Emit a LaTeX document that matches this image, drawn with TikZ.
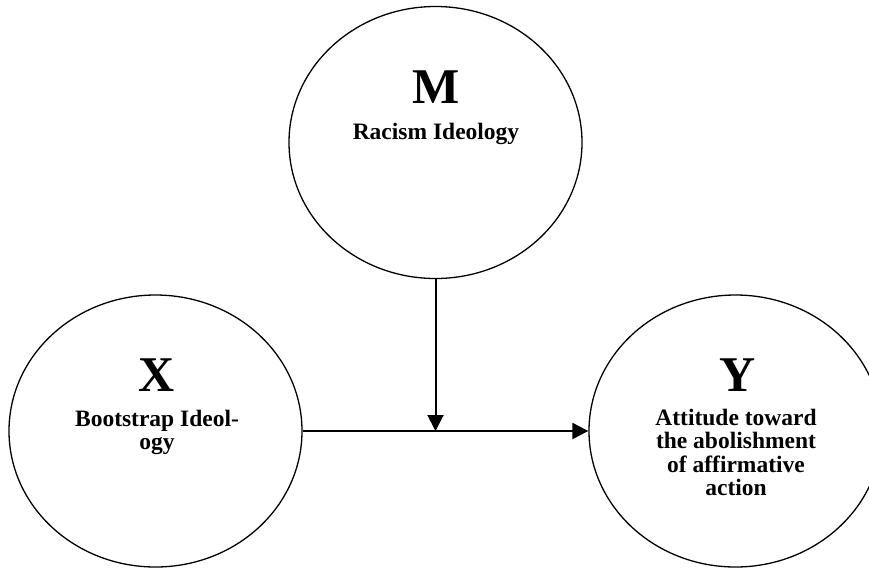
\documentclass[tikz,border=0pt]{standalone}
\usepackage{fontspec}
\setmainfont{Liberation Serif}
\usetikzlibrary{shapes.geometric,arrows.meta}

\begin{document}
\begin{tikzpicture}[x=1pt,y=-1pt,
	var/.style={draw,ellipse,line width=1.3pt,minimum width=293pt,minimum height=272pt,inner sep=0pt},
	link/.style={line width=2pt,-{Triangle[length=16pt,width=16pt]}},
	letter/.style={font=\bfseries\fontsize{50}{50}\selectfont,inner sep=0pt,anchor=base},
	desc/.style={font=\bfseries\fontsize{23.5}{23.3}\selectfont,align=center,inner sep=0pt,anchor=north}]
	\useasboundingbox (0,0) rectangle (869,568);
	
	% variables
	\foreach \n/\x/\y in
	{M/435.5/142.5, X/155.5/431, Y/735.5/431}{
		\node[var] (\n) at (\x,\y) {};
	}
	
	% labels
	\node[letter] (Mletter) at (436,103) {M};
	\node[desc] (Mtext) at (436,123) {Racism Ideology};
	\node[letter] (Xletter) at (157,391) {X};
	\node[desc] (Xtext) at (157,410) {Bootstrap Ideol-\\ogy};
	\node[letter] (Yletter) at (738,391) {Y};
	\node[desc] (Ytext) at (736,409) {Attitude toward\\the abolishment\\of affirmative\\action};
	
	% paths
	\coordinate (J) at (M.south |- X.east);
	\draw[link] (X.east) -- (Y.west);
	\draw[link] (M.south) -- (J);
\end{tikzpicture}
\end{document}
